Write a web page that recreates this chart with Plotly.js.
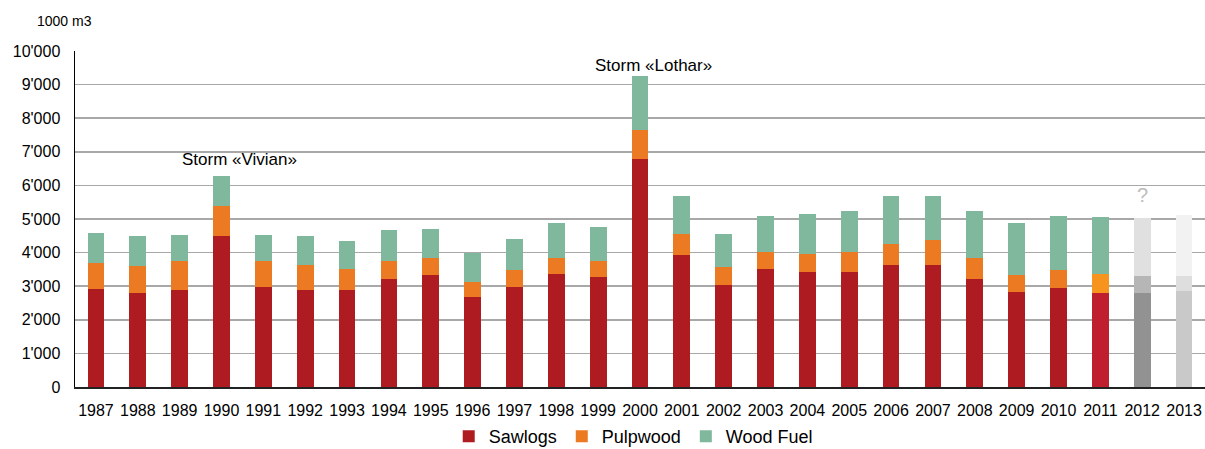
<!DOCTYPE html>
<html>
<head>
<meta charset="utf-8">
<script src="https://cdn.plot.ly/plotly-3.0.1.min.js"></script>
<style>html,body{margin:0;padding:0;background:#fff;}</style>
</head>
<body>
<div id="chart" style="width:1205px;height:449px;"></div>
<script>
const years = ['1987','1988','1989','1990','1991','1992','1993','1994','1995','1996','1997','1998','1999','2000','2001','2002','2003','2004','2005','2006','2007','2008','2009','2010','2011','2012','2013'];
const sawlogs = [2920,2790,2890,4490,2980,2890,2890,3220,3320,2670,2990,3370,3270,6790,3940,3040,3500,3410,3410,3640,3640,3220,2840,2950,2810,2800,2860];
const pulpwood = [760,800,850,890,760,740,610,520,520,460,480,470,470,870,600,520,510,550,600,610,730,620,480,520,550,500,440];
const woodFuel = [900,900,790,900,790,860,850,920,860,850,940,1050,1010,1590,1130,980,1090,1200,1240,1420,1300,1410,1560,1630,1700,1730,1830];

const sawColors = years.map((y,i)=> i<24 ? '#AE1C22' : (i===24 ? '#BE1E2D' : (i===25 ? '#929292' : '#C9C9C9')));
const pulpColors = years.map((y,i)=> i<24 ? '#EC7A22' : (i===24 ? '#F7941D' : (i===25 ? '#B6B6B6' : '#DEDEDE')));
const fuelColors = years.map((y,i)=> i<25 ? '#80B89E' : (i===25 ? '#E0E0E0' : '#F2F2F2'));

const common = {type:'bar', x:years, hoverinfo:'skip'};
const data = [
  Object.assign({}, common, {name:'Sawlogs', y:sawlogs, marker:{color:sawColors, line:{width:0}}}),
  Object.assign({}, common, {name:'Pulpwood', y:pulpwood, marker:{color:pulpColors, line:{width:0}}}),
  Object.assign({}, common, {name:'Wood Fuel', y:woodFuel, marker:{color:fuelColors, line:{width:0}}})
];

const font = 'Liberation Sans, Arial, sans-serif';
const layout = {
  width:1205, height:449,
  margin:{l:75, r:0, t:51, b:62},
  barmode:'stack', bargap:0.6,
  separators:".'",
  paper_bgcolor:'#fff', plot_bgcolor:'#fff',
  font:{family:font, color:'#000', size:16},
  showlegend:true,
  legend:{orientation:'h', x:0.494, xanchor:'center', xref:'paper', yref:'container', y:0.028, yanchor:'middle',
          font:{family:font, size:18, color:'#000'}, itemwidth:30, traceorder:'normal'},
  xaxis:{type:'category', range:[-0.5,26.5], showgrid:false, ticks:'', showline:true,
         linecolor:'#222', linewidth:2, tickfont:{family:font, size:16, color:'#000'},
         ticklabelstandoff:8, fixedrange:true},
  yaxis:{range:[0,10000], dtick:1000, tickformat:',d', showgrid:true, gridcolor:'#A8A8A8',
         gridwidth:1.5, zeroline:false, showline:true, linecolor:'#000', linewidth:1.5,
         ticks:'', ticklabelstandoff:10, tickfont:{family:font, size:16, color:'#000'}, fixedrange:true},
  annotations:[
    {xref:'paper', yref:'paper', x:-0.009, y:1.089, xanchor:'center', yanchor:'middle',
     text:'1000 m3', showarrow:false, font:{family:font, size:14, color:'#000'}},
    {xref:'x', yref:'y', x:3.44, y:6780, text:'Storm «Vivian»', showarrow:false,
     font:{family:font, size:17, color:'#000'}},
    {xref:'x', yref:'y', x:13.33, y:9580, text:'Storm «Lothar»', showarrow:false,
     font:{family:font, size:17, color:'#000'}},
    {xref:'x', yref:'y', x:25, y:5710, text:'?', showarrow:false,
     font:{family:font, size:20, color:'#BDBDBD'}}
  ]
};
Plotly.newPlot('chart', data, layout, {displayModeBar:false, staticPlot:true});
</script>
</body>
</html>
